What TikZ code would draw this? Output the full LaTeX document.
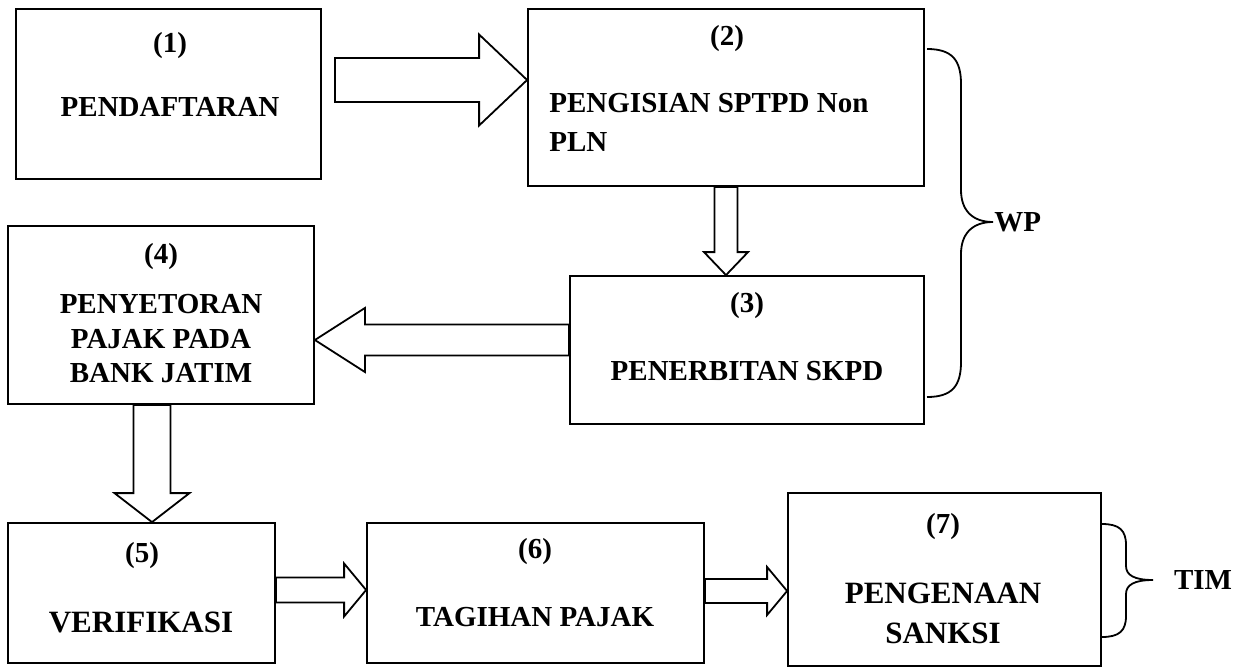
\documentclass[tikz,border=0pt]{standalone}
\usepackage{fontspec}
\setmainfont{Liberation Serif}
\usetikzlibrary{calc}

\begin{document}
\begin{tikzpicture}[x=0.5pt,y=-0.5pt,
    stepbox/.style={draw,line width=0.9pt,inner sep=0pt},
    lbl/.style={font=\fontsize{14.5}{17.25}\selectfont\bfseries,inner sep=0pt,align=center},
    biglbl/.style={lbl,font=\fontsize{15.5}{20}\selectfont\bfseries},
    bracket/.style={line width=0.9pt},
    blockarr/.style n args={3}{draw,line width=0.9pt,fill=white,
        to path={($(\tikztotarget)!#3!(\tikztostart)$) coordinate (hb)
            ($(\tikztostart)!#1!90:(\tikztotarget)$)
            -- ($(hb)!#1!90:(\tikztotarget)$)
            -- ($(hb)!#2!90:(\tikztotarget)$)
            -- (\tikztotarget)
            -- ($(hb)!#2!-90:(\tikztotarget)$)
            -- ($(hb)!#1!-90:(\tikztotarget)$)
            -- ($(\tikztostart)!#1!-90:(\tikztotarget)$) -- cycle}}]
        \useasboundingbox (0,0) rectangle (1246,668);
        \node[stepbox,minimum width=152.5pt,minimum height=85pt] (b1) at (168.5,94) {};
        \node[stepbox,minimum width=198pt,minimum height=88.5pt] (b2) at (726,97.5) {};
        \node[stepbox,minimum width=177pt,minimum height=74pt] (b3) at (747,350) {};
        \node[stepbox,minimum width=153pt,minimum height=89pt] (b4) at (161,315) {};
        \node[stepbox,minimum width=133.5pt,minimum height=70pt] (b5) at (141.5,593) {};
        \node[stepbox,minimum width=168.5pt,minimum height=70pt] (b6) at (535.5,593) {};
        \node[stepbox,minimum width=156.5pt,minimum height=86.5pt] (b7) at (944.5,579.5) {};
        \node[lbl] (n1) at (170,46) {(1)};
        \node[lbl] (t1) at (170,107) {PENDAFTARAN};
        \node[lbl] (n2) at (727,39) {(2)};
        \node[lbl,anchor=west] (t2a) at (549,103) {PENGISIAN SPTPD Non};
        \node[lbl,anchor=west] (t2b) at (549,142) {PLN};
        \node[lbl] (n3) at (747,306) {(3)};
        \node[lbl] (t3) at (747,371) {PENERBITAN SKPD};
        \node[lbl] (n4) at (161,257) {(4)};
        \node[lbl] (t4) at (161,339) {PENYETORAN\\PAJAK PADA\\BANK JATIM};
        \node[lbl] (n5) at (142,556) {(5)};
        \node[biglbl] (t5) at (141,622) {VERIFIKASI};
        \node[lbl] (n6) at (535,552) {(6)};
        \node[lbl] (t6) at (535,617) {TAGIHAN PAJAK};
        \node[lbl] (n7) at (943,527) {(7)};
        \node[biglbl] (t7) at (943,613) {PENGENAAN\\SANKSI};
        \coordinate (s12) at (335,80);
        \coordinate (y34) at (0,340);
        \coordinate (x45) at (152,0);
        \coordinate (y56) at (0,590);
        \coordinate (y67) at (0,591);
        \draw[blockarr={11pt}{22.75pt}{24pt}] (s12) to (b2.west |- s12);
        \draw[blockarr={5.75pt}{11pt}{11.5pt}] (b2.south) to (b2.south |- b3.north);
        \draw[blockarr={7.75pt}{16pt}{25pt}] (b3.west |- y34) to (b4.east |- y34);
        \draw[blockarr={9.25pt}{18.75pt}{14.5pt}] (b4.south -| x45) to (b5.north -| x45);
        \draw[blockarr={6.25pt}{13.25pt}{11pt}] (b5.east |- y56) to (b6.west |- y56);
        \draw[blockarr={6pt}{12pt}{10pt}] (b6.east |- y67) to (b7.west |- y67);
        \draw[bracket] (927,49) .. controls (952,49) and (961,60) .. (961,84) -- (961,190)
            .. controls (961,210) and (972,222) .. (993,222)
            .. controls (972,222) and (961,234) .. (961,254) -- (961,362)
            .. controls (961,386) and (952,397) .. (927,397);
        \node[lbl,anchor=west] (wp) at (994,222) {WP};
        \draw[bracket] (1102,524) .. controls (1119,524) and (1126,530) .. (1126,545) -- (1126,566)
            .. controls (1126,575) and (1134,580) .. (1153,580)
            .. controls (1134,580) and (1126,585) .. (1126,594) -- (1126,616)
            .. controls (1126,631) and (1119,637) .. (1102,637);
        \node[lbl] (tim) at (1203,580) {TIM};
    \end{tikzpicture}
\end{document}
